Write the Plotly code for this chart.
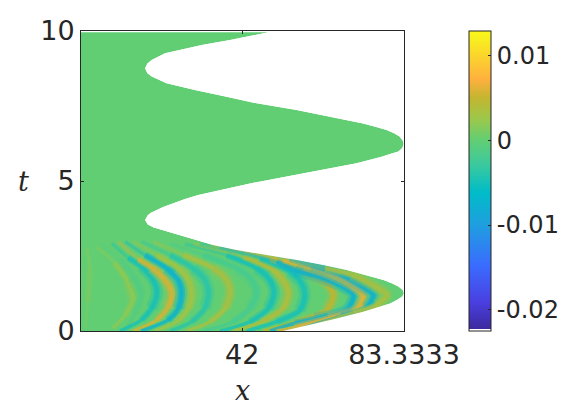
import plotly.graph_objs as go
from plotly.colors import sample_colorscale

# --- DATA ---

# right edge of the filled region, x against t
edge_t = [9.96, 9.70, 9.53, 9.26, 9.03, 8.92, 8.76, 8.59, 8.48, 8.26, 8.03, 7.81, 7.59, 7.37, 7.14, 6.92, 6.81, 6.70,
          6.59, 6.48, 6.35, 6.23, 6.10, 5.98, 5.92, 5.81, 5.59, 5.37, 5.15, 4.92, 4.70, 4.53, 4.40, 4.13, 3.93, 3.86,
          3.70, 3.55, 3.45, 3.37, 3.20, 3.03, 2.87, 2.70, 2.53, 2.37, 2.20, 2.03, 1.87, 1.70, 1.59, 1.48, 1.37, 1.26,
          1.15, 1.03, 0.92, 0.64, 0.42, 0.17, 0.0]
edge_x = [48.7, 38.9, 31.7, 22.3, 18.9, 17.8, 17.2, 17.8, 18.9, 22.7, 29.9, 38.0, 45.7, 55.9, 64.4, 72.9, 76.0, 78.9,
          80.8, 82.2, 83.0, 83.25, 82.9, 81.9, 80.2, 77.6, 71.2, 62.7, 53.4, 44.0, 36.3, 30.8, 27.4, 21.8, 18.6, 17.9,
          17.2, 17.9, 19.4, 21.5, 26.0, 29.9, 34.6, 40.6, 49.1, 55.9, 62.7, 68.7, 73.4, 78.1, 80.2, 81.9, 83.0, 83.3,
          82.9, 81.5, 79.8, 72.9, 66.1, 57.6, 52.5]

# wave crests and troughs below t = 3
ridge_z = [0.001, 0.002, -0.001, -0.005, 0.0058, -0.0075, 0.003, -0.004, 0.0035, -0.002, -0.005, 0.004, -0.005,
           0.005, -0.0075, 0.0062, -0.0075, 0.0035]
ridge_x = [
    [1.9, 2.6, 3.1, 2.3],
    [4.7, 9.5, 12.8, 14.1, 12.1, 9.0],
    [6.1, 10.8, 14.2, 16.3, 14.6, 12.1],
    [8.7, 12.9, 16.3, 19.3, 20.2, 18.9, 16.3, 10.8],
    [10.4, 15.5, 18.9, 22.3, 24.0, 23.1, 20.2, 14.2],
    [12.1, 17.2, 22.7, 25.7, 26.5, 25.7, 23.1, 16.2],
    [14.2, 20.2, 25.7, 28.3, 29.1, 28.3, 25.3, 19.7],
    [16.3, 23.6, 29.5, 32.5, 33.4, 32.5, 29.1, 23.6],
    [19.3, 27.0, 34.6, 38.0, 38.9, 37.6, 33.8, 27.8],
    [23.6, 32.1, 40.6, 44.4, 45.7, 44.0, 39.7, 32.1],
    [27.4, 38.0, 45.7, 49.1, 50.1, 48.7, 44.0, 36.3],
    [29.5, 42.3, 49.96, 52.9, 53.8, 52.5, 47.0, 39.7],
    [31.2, 46.6, 54.2, 57.2, 58.0, 56.8, 50.8, 43.2],
    [33.8, 49.1, 58.0, 63.6, 65.3, 63.6, 55.9, 47.4],
    [36.3, 50.8, 55.5, 61.5, 67.0, 70.4, 68.7, 60.6, 55.5, 49.1],
    [38.9, 52.5, 58.0, 64.0, 70.1, 72.9, 71.2, 64.0, 55.5, 50.8],
    [42.3, 54.2, 59.8, 66.6, 72.6, 75.5, 73.8, 67.4, 57.6],
    [49.1, 63.2, 70.0, 75.9, 78.9, 76.4, 70.4, 59.3],
]
ridge_t = [
    [0.1, 0.97, 2.1, 2.77],
    [2.8, 2.27, 1.63, 1.1, 0.53, 0.1],
    [2.87, 2.37, 1.81, 1.2, 0.59, 0.0],
    [2.92, 2.44, 2.14, 1.7, 1.26, 0.76, 0.37, 0.0],
    [2.98, 2.39, 2.11, 1.7, 1.26, 0.81, 0.37, 0.0],
    [2.98, 2.53, 2.09, 1.7, 1.26, 0.76, 0.37, 0.0],
    [2.98, 2.53, 2.09, 1.7, 1.26, 0.76, 0.31, 0.0],
    [2.98, 2.53, 2.09, 1.7, 1.26, 0.76, 0.31, 0.0],
    [2.98, 2.53, 2.09, 1.7, 1.26, 0.76, 0.31, 0.0],
    [2.92, 2.53, 2.09, 1.7, 1.26, 0.76, 0.31, 0.0],
    [2.90, 2.53, 2.09, 1.7, 1.26, 0.76, 0.31, 0.0],
    [2.90, 2.48, 2.03, 1.59, 1.26, 0.76, 0.31, 0.0],
    [2.90, 2.42, 1.98, 1.59, 1.2, 0.7, 0.31, 0.0],
    [2.87, 2.42, 1.98, 1.59, 1.2, 0.7, 0.31, 0.0],
    [2.81, 2.31, 2.03, 1.81, 1.53, 1.2, 0.7, 0.4, 0.26, 0.0],
    [2.81, 2.37, 2.2, 1.93, 1.53, 1.2, 0.7, 0.42, 0.13, 0.0],
    [2.76, 2.42, 2.2, 1.92, 1.48, 1.2, 0.79, 0.5, 0.09],
    [2.53, 2.09, 1.87, 1.48, 1.2, 0.87, 0.61, 0.14],
]

colorbar_ticks = [-0.02, -0.01, 0, 0.01]
colorbar_labels = ["-0.02", "-0.01", "0", "0.01"]
z_min = -0.0225
z_max = 0.0129

wave_colorscale = [
    [0.0, "#ffffff"], [0.006, "#ffffff"], [0.008, "#3b2a9e"], [0.096, "#4a3fe0"], [0.218, "#3a6cff"],
    [0.356, "#1f9fdf"], [0.462, "#00bcc8"], [0.55, "#38c9a0"], [0.639, "#64ce72"], [0.706, "#9cc84a"],
    [0.778, "#c4b530"], [0.84, "#ffb03e"], [0.97, "#f8ee20"], [1.0, "#fbf71a"],
]

TEXT = "#262626"
AXIS_FONT = dict(size=27, color=TEXT, family="DejaVu Sans")
LABEL_FONT = dict(size=27, color=TEXT, family="DejaVu Serif")


def colour_of(value):
    return sample_colorscale(wave_colorscale, (value - z_min) / (z_max - z_min))[0]


def add_stripe(fig, xs, ts, colour, width, opacity):
    fig.add_trace(go.Scatter(x=xs, y=ts, mode="lines", opacity=opacity,
                             line=dict(color=colour, width=width, shape="spline", smoothing=0.8),
                             hoverinfo="skip", showlegend=False))


fig = go.Figure()

# filled region in the colour of zero
fig.add_trace(go.Scatter(x=[0] + edge_x + [0], y=[edge_t[0]] + edge_t + [0], mode="lines", fill="toself",
                         fillcolor=colour_of(0), line=dict(width=0), hoverinfo="skip", showlegend=False))

# wave stripes: faint at the far end of the arms, wider around the turn
for xs, ts, z in zip(ridge_x, ridge_t, ridge_z):
    c = colour_of(z)
    add_stripe(fig, xs[2:-2], ts[2:-2], c, 12, 0.3)
    add_stripe(fig, xs[1:-1], ts[1:-1], c, 7, 0.45)
    add_stripe(fig, xs, ts, c, 3.5, 0.35)
    add_stripe(fig, xs[1:], ts[1:], c, 3.5, 0.6)

# white outside the edge trims the stripes
fig.add_trace(go.Scatter(x=[90] + edge_x + [90], y=[edge_t[0]] + edge_t + [-1], mode="lines", fill="toself",
                         fillcolor="white", line=dict(width=0), hoverinfo="skip", showlegend=False))

# empty trace that only carries the colorbar
fig.add_trace(go.Scatter(x=[None], y=[None], mode="markers", hoverinfo="skip", showlegend=False,
                         marker=dict(color=[0], cmin=z_min, cmax=z_max, colorscale=wave_colorscale, showscale=True,
                                     colorbar=dict(x=1.201, xanchor="left", xpad=0, ypad=0, y=1, yanchor="top", len=1,
                                                   thicknessmode="pixels", thickness=22,
                                                   outlinecolor=TEXT, outlinewidth=1,
                                                   tickmode="array", tickvals=colorbar_ticks, ticktext=colorbar_labels,
                                                   ticks="inside", ticklen=3, tickcolor=TEXT,
                                                   tickfont=dict(size=24, color=TEXT, family="DejaVu Sans")))))

fig.update_xaxes(range=[0.8333, 83.3333], tickmode="array", tickvals=[42, 83.3333], ticktext=["42", "83.3333"],
                 ticks="inside", ticklen=3, tickcolor=TEXT, showline=True, linecolor=TEXT, linewidth=1, mirror="ticks",
                 showgrid=False, zeroline=False, tickfont=AXIS_FONT)
fig.update_yaxes(range=[0, 10], tickmode="array", tickvals=[0, 5, 10], ticktext=["0", "5", "10"],
                 ticks="inside", ticklen=3, tickcolor=TEXT, showline=True, linecolor=TEXT, linewidth=1, mirror="ticks",
                 showgrid=False, zeroline=False, tickfont=AXIS_FONT)
fig.update_layout(width=562, height=400, autosize=False, margin=dict(l=73, r=166, t=23, b=77, autoexpand=False),
                  paper_bgcolor="white", plot_bgcolor="white", showlegend=False,
                  annotations=[
                      dict(text="<i>x</i>", xref="paper", yref="paper", x=0.5, y=-0.197, xanchor="center",
                           yanchor="middle", showarrow=False, font=LABEL_FONT),
                      dict(text="<i>t</i>", xref="paper", yref="paper", x=-0.177, y=0.5, xanchor="center",
                           yanchor="middle", showarrow=False, font=LABEL_FONT),
                  ])

fig.write_html("out.html")
